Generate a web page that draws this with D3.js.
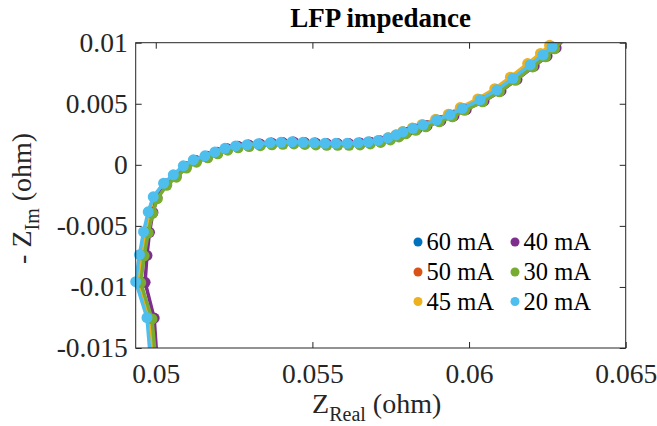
<!DOCTYPE html>
<html>
<head>
<meta charset="utf-8">
<script src="https://cdn.jsdelivr.net/npm/d3@7"></script>
<style>
  body { margin: 0; background: #fff; }
  svg { display: block; font-family: 'Liberation Serif', 'Times New Roman', serif; }
</style>
</head>
<body>
<div id="chart"></div>
<script>
// impedance spectra, one pair of arrays per charge current
var seriesNames = ['60 mA', '50 mA', '45 mA', '40 mA', '30 mA', '20 mA']
var seriesColors = ['#0072BD', '#D95319', '#EDB120', '#7E2F8E', '#77AC30', '#4DBEEE']

var re60 = [0.05, 0.04984, 0.04948, 0.04959, 0.04972, 0.04986, 0.05001, 0.05032, 0.05062, 0.05094, 0.05126, 0.05162, 0.05194, 0.05226, 0.0526, 0.05295, 0.05331, 0.05368, 0.05403, 0.05438, 0.05473, 0.05508, 0.05543, 0.05578, 0.05614, 0.0565, 0.05682, 0.05714, 0.05745, 0.05771, 0.05793, 0.05825, 0.05857, 0.05901, 0.05943, 0.05982, 0.06039, 0.06093, 0.06144, 0.06199, 0.0624, 0.06269, 0.06294]
var im60 = [-0.01744, -0.01256, -0.0096, -0.0074, -0.00553, -0.00391, -0.00269, -0.00159, -0.00089, -0.00015, 0.00034, 0.00068, 0.001, 0.0013, 0.0015, 0.0016, 0.00168, 0.00176, 0.0018, 0.00184, 0.0018, 0.00176, 0.00172, 0.00172, 0.00172, 0.00176, 0.00184, 0.00196, 0.00217, 0.00241, 0.00266, 0.00295, 0.00323, 0.00364, 0.00405, 0.00458, 0.00528, 0.0061, 0.00704, 0.00814, 0.00896, 0.00962, 0.01035]

var re50 = [0.05001, 0.04985, 0.0495, 0.0496, 0.04973, 0.04987, 0.05002, 0.05033, 0.05063, 0.05095, 0.05127, 0.05163, 0.05195, 0.05227, 0.05261, 0.05296, 0.05332, 0.05369, 0.05404, 0.05439, 0.05474, 0.05509, 0.05544, 0.05579, 0.05615, 0.05651, 0.05683, 0.05715, 0.05746, 0.05772, 0.05794, 0.05826, 0.05858, 0.05902, 0.05944, 0.05983, 0.0604, 0.06094, 0.06145, 0.062, 0.06241, 0.0627, 0.06295]
var im50 = [-0.01744, -0.01257, -0.00961, -0.00741, -0.00554, -0.00392, -0.0027, -0.0016, -0.0009, -0.00016, 0.00033, 0.00067, 0.00099, 0.00129, 0.00149, 0.00159, 0.00167, 0.00175, 0.00179, 0.00183, 0.00179, 0.00175, 0.00171, 0.00171, 0.00171, 0.00175, 0.00183, 0.00195, 0.00216, 0.0024, 0.00265, 0.00294, 0.00322, 0.00363, 0.00404, 0.00457, 0.00527, 0.00609, 0.00703, 0.00813, 0.00895, 0.00961, 0.01034]

var re45 = [0.04998, 0.04982, 0.04946, 0.04957, 0.0497, 0.04984, 0.04999, 0.05031, 0.05061, 0.05093, 0.05125, 0.05161, 0.05193, 0.05225, 0.05259, 0.05294, 0.0533, 0.05368, 0.05403, 0.05438, 0.05473, 0.05508, 0.05543, 0.05578, 0.05614, 0.05649, 0.05681, 0.05712, 0.05742, 0.05767, 0.05788, 0.05819, 0.0585, 0.05893, 0.05934, 0.05972, 0.06028, 0.06082, 0.06132, 0.06187, 0.06228, 0.06257, 0.06282]
var im45 = [-0.01744, -0.01256, -0.0096, -0.0074, -0.00553, -0.00391, -0.0027, -0.0016, -0.0009, -0.00016, 0.00034, 0.00068, 0.001, 0.0013, 0.0015, 0.0016, 0.00168, 0.00176, 0.0018, 0.00184, 0.0018, 0.00176, 0.00172, 0.00172, 0.00172, 0.00177, 0.00186, 0.00199, 0.00221, 0.00246, 0.00272, 0.00302, 0.00331, 0.00373, 0.00415, 0.00469, 0.0054, 0.00623, 0.00718, 0.00829, 0.00912, 0.00979, 0.01052]

var re40 = [0.05008, 0.04995, 0.04966, 0.04972, 0.0498, 0.04991, 0.05004, 0.05035, 0.05065, 0.05097, 0.05128, 0.05164, 0.05196, 0.05228, 0.05262, 0.05297, 0.05333, 0.0537, 0.05405, 0.0544, 0.05475, 0.0551, 0.05545, 0.0558, 0.05616, 0.05652, 0.05685, 0.05718, 0.0575, 0.05778, 0.05801, 0.05834, 0.05866, 0.0591, 0.05952, 0.05991, 0.06048, 0.06102, 0.06153, 0.06208, 0.06249, 0.06278, 0.06303]
var im40 = [-0.01745, -0.01255, -0.00962, -0.00742, -0.00553, -0.0039, -0.00268, -0.00158, -0.00088, -0.00014, 0.00036, 0.0007, 0.00102, 0.00132, 0.00152, 0.00162, 0.0017, 0.00178, 0.00182, 0.00186, 0.00182, 0.00178, 0.00174, 0.00174, 0.00174, 0.00178, 0.00185, 0.00196, 0.00216, 0.0024, 0.00264, 0.00292, 0.0032, 0.0036, 0.00401, 0.00453, 0.00523, 0.00605, 0.00699, 0.00809, 0.00891, 0.00957, 0.0103]

var re30 = [0.05005, 0.04988, 0.04952, 0.04963, 0.04976, 0.0499, 0.05005, 0.05035, 0.05066, 0.05098, 0.0513, 0.05166, 0.05198, 0.0523, 0.05263, 0.05298, 0.05334, 0.05371, 0.05406, 0.05441, 0.05476, 0.05511, 0.05546, 0.05581, 0.05617, 0.05652, 0.05685, 0.05718, 0.05749, 0.05776, 0.05798, 0.0583, 0.05862, 0.05905, 0.05947, 0.05986, 0.06043, 0.06097, 0.06148, 0.06203, 0.06244, 0.06273, 0.06298]
var im30 = [-0.01743, -0.01262, -0.00965, -0.00745, -0.00558, -0.00397, -0.00277, -0.00168, -0.00101, -0.00026, 0.00022, 0.00057, 0.0009, 0.0012, 0.00139, 0.00149, 0.00157, 0.00164, 0.00168, 0.00171, 0.00167, 0.00163, 0.0016, 0.0016, 0.0016, 0.00163, 0.00171, 0.00183, 0.00204, 0.00228, 0.00254, 0.00283, 0.00311, 0.00352, 0.00393, 0.00446, 0.00516, 0.00598, 0.00692, 0.00802, 0.00884, 0.0095, 0.01023]

var re20 = [0.04988, 0.04972, 0.04936, 0.04948, 0.04961, 0.04976, 0.04992, 0.05025, 0.05056, 0.05088, 0.0512, 0.05157, 0.05189, 0.05221, 0.05255, 0.05291, 0.05327, 0.05365, 0.054, 0.05435, 0.0547, 0.05505, 0.0554, 0.05575, 0.05611, 0.05646, 0.05678, 0.0571, 0.05741, 0.05767, 0.05789, 0.05821, 0.05853, 0.05897, 0.05939, 0.05978, 0.06035, 0.06089, 0.0614, 0.06195, 0.06236, 0.06265, 0.0629]
var im20 = [-0.01743, -0.01252, -0.00957, -0.00736, -0.00548, -0.00385, -0.00262, -0.00151, -0.00082, -0.00008, 0.00041, 0.00074, 0.00106, 0.00135, 0.00155, 0.00164, 0.00172, 0.0018, 0.00184, 0.00188, 0.00184, 0.0018, 0.00176, 0.00176, 0.00176, 0.0018, 0.00188, 0.002, 0.00221, 0.00245, 0.0027, 0.00299, 0.00327, 0.00368, 0.00409, 0.00462, 0.00532, 0.00614, 0.00708, 0.00818, 0.009, 0.00966, 0.01039]

var reData = [re60, re50, re45, re40, re30, re20]
var imData = [im60, im50, im45, im40, im30, im20]

var xDomain = [0.04936, 0.065]
var yDomain = [-0.015, 0.01]
var xTicks = [0.05, 0.055, 0.06, 0.065]
var xTickLabels = ['0.05', '0.055', '0.06', '0.065']
var yTicks = [-0.015, -0.01, -0.005, 0, 0.005, 0.01]
var yTickLabels = ['-0.015', '-0.01', '-0.005', '0', '0.005', '0.01']

// layout settings
var W = 657
var H = 426
var plot = { left: 135.7, right: 625.7, top: 42.7, bottom: 348 }
var axisColor = '#262626'
var serif = "'Liberation Serif', 'Times New Roman', serif"

var xScale = d3.scaleLinear().domain(xDomain).range([plot.left, plot.right])
var yScale = d3.scaleLinear().domain(yDomain).range([plot.bottom, plot.top])

var svg = d3.select('#chart')
  .append('svg')
  .attr('width', W)
  .attr('height', H)

svg.append('defs')
  .append('clipPath')
  .attr('id', 'clipPlot')
  .append('rect')
  .attr('x', plot.left)
  .attr('y', plot.top)
  .attr('width', plot.right - plot.left)
  .attr('height', plot.bottom - plot.top)

// axes, ticks pointing inward on all four sides
function styleAxis (g) {
  g.select('.domain').remove()
  g.selectAll('line').attr('stroke', axisColor).attr('stroke-width', 1)
  g.selectAll('text').attr('fill', axisColor).style('font-size', '27.5px')
    .style('font-family', serif)
}

svg.append('g')
  .attr('transform', 'translate(0,' + plot.bottom + ')')
  .call(d3.axisBottom(xScale).tickValues(xTicks)
    .tickFormat(function (d, i) { return xTickLabels[i] })
    .tickSizeInner(-6).tickSizeOuter(0).tickPadding(15.5))
  .call(styleAxis)

svg.append('g')
  .attr('transform', 'translate(0,' + plot.top + ')')
  .call(d3.axisTop(xScale).tickValues(xTicks).tickFormat('')
    .tickSizeInner(-6).tickSizeOuter(0))
  .call(styleAxis)

svg.append('g')
  .attr('transform', 'translate(' + plot.left + ',0)')
  .call(d3.axisLeft(yScale).tickValues(yTicks)
    .tickFormat(function (d, i) { return yTickLabels[i] })
    .tickSizeInner(-6).tickSizeOuter(0).tickPadding(8))
  .call(styleAxis)

svg.append('g')
  .attr('transform', 'translate(' + plot.right + ',0)')
  .call(d3.axisRight(yScale).tickValues(yTicks).tickFormat('')
    .tickSizeInner(-6).tickSizeOuter(0))
  .call(styleAxis)

// series: lines clipped to the box, markers drawn whole when inside
var line = d3.line()
  .x(function (d) { return xScale(d[0]) })
  .y(function (d) { return yScale(d[1]) })

seriesNames.forEach(function (name, s) {
  var pts = reData[s].map(function (r, i) { return [r, imData[s][i]] })
  var inside = pts.filter(function (d) {
    return d[0] >= xDomain[0] && d[0] <= xDomain[1] && d[1] >= yDomain[0] && d[1] <= yDomain[1]
  })
  var g = svg.append('g').attr('class', 'series')
  g.append('path')
    .datum(pts)
    .attr('clip-path', 'url(#clipPlot)')
    .attr('fill', 'none')
    .attr('stroke', seriesColors[s])
    .attr('stroke-width', 3.5)
    .attr('stroke-linejoin', 'round')
    .attr('d', line)
  g.selectAll('circle')
    .data(inside)
    .enter()
    .append('circle')
    .attr('cx', function (d) { return xScale(d[0]) })
    .attr('cy', function (d) { return yScale(d[1]) })
    .attr('r', 5.5)
    .attr('fill', seriesColors[s])
})

// box
svg.append('rect')
  .attr('x', plot.left)
  .attr('y', plot.top)
  .attr('width', plot.right - plot.left)
  .attr('height', plot.bottom - plot.top)
  .attr('fill', 'none')
  .attr('stroke', axisColor)
  .attr('stroke-width', 1)

// title
svg.append('text')
  .attr('x', (plot.left + plot.right) / 2)
  .attr('y', 27)
  .attr('text-anchor', 'middle')
  .style('font-size', '27px')
  .style('font-weight', 'bold')
  .attr('fill', '#000')
  .text('LFP impedance')

// x label
var xLab = svg.append('text')
  .attr('x', (plot.left + plot.right) / 2 - 4)
  .attr('y', 413)
  .attr('text-anchor', 'middle')
  .attr('fill', axisColor)
  .style('font-size', '28px')
xLab.append('tspan').text('Z')
xLab.append('tspan').attr('dy', 8).style('font-size', '20px').text('Real')
xLab.append('tspan').attr('dy', -8).text(' (ohm)')

// y label
var yLab = svg.append('text')
  .attr('transform', 'translate(31,' + ((plot.top + plot.bottom) / 2 + 3) + ') rotate(-90)')
  .attr('text-anchor', 'middle')
  .attr('fill', axisColor)
  .style('font-size', '28px')
yLab.append('tspan').text('- Z')
yLab.append('tspan').attr('dy', 8).style('font-size', '20px').text('Im')
yLab.append('tspan').attr('dy', -8).text(' (ohm)')

// legend, two columns, no box
var legendCols = [418, 515]
var legendRows = [242, 272, 301.5]
var legendOrder = [0, 3, 1, 4, 2, 5]
legendOrder.forEach(function (s, k) {
  var cx = legendCols[k % 2]
  var cy = legendRows[Math.floor(k / 2)]
  svg.append('circle')
    .attr('cx', cx)
    .attr('cy', cy)
    .attr('r', 4.5)
    .attr('fill', seriesColors[s])
  svg.append('text')
    .attr('x', cx + 8.5)
    .attr('y', cy + 8)
    .attr('fill', '#000')
    .style('font-size', '24.5px')
    .text(seriesNames[s])
})
</script>
</body>
</html>
